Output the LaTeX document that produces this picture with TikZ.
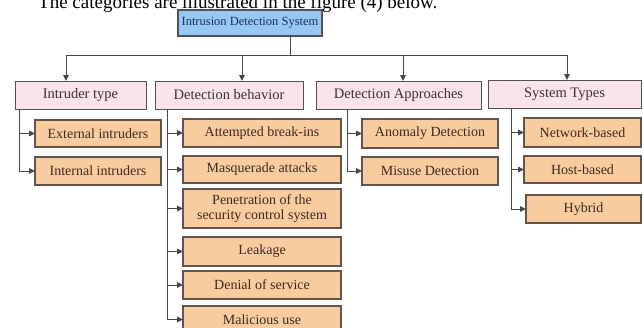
\documentclass[tikz,border=0pt]{standalone}
\usepackage{fontspec}
\setmainfont{Liberation Serif}
\usetikzlibrary{arrows.meta}
\definecolor{idsblue}{RGB}{150,200,242}
\definecolor{catpink}{RGB}{250,228,233}
\definecolor{kidorange}{RGB}{249,204,160}
\definecolor{edgegrey}{RGB}{80,80,88}
\definecolor{kidedge}{RGB}{100,85,75}
\definecolor{idstext}{RGB}{30,45,95}
\definecolor{cattext}{RGB}{55,50,55}
\definecolor{kidtext}{RGB}{60,40,30}
\tikzset{
  boxbase/.style={draw, inner sep=0pt, outer sep=0pt, align=center},
  idsbox/.style={boxbase, fill=idsblue, draw=edgegrey, line width=1.3pt, text=idstext, font=\fontsize{12.5}{14}\selectfont},
  catbox/.style={boxbase, fill=catpink, draw=edgegrey, line width=1pt, text=cattext, font=\fontsize{14.5}{16}\selectfont},
  kidbox/.style={boxbase, fill=kidorange, draw=kidedge, line width=1.1pt, text=kidtext, font=\fontsize{14}{15}\selectfont},
  link/.style={draw=black!72, line width=0.9pt},
  arr/.style={link, -{Triangle[length=6pt,width=5.5pt]}},
}
\newcommand\mkbox[7]{\node[#2, minimum width={(#5-#3)*1pt}, minimum height={(#6-#4)*1pt}] (#1) at ({(#3+#5)/2},{(#4+#6)/2}) {#7};}
\begin{document}
\begin{tikzpicture}[x=1pt,y=-1pt]
\useasboundingbox (0,0) rectangle (643,327);
\fill[white] (0,0) rectangle (643,327);
\clip (0,0) rectangle (643,327);
% partial caption line at the top
\node[anchor=base west, inner sep=0pt, font=\fontsize{19}{19}\selectfont] (title) at (38,8) {The categories are illustrated in the figure (4) below.};
% root
\mkbox{ids}{idsbox}{178}{10}{322}{36}{Intrusion Detection System}
% categories
\mkbox{cat1}{catbox}{15}{81}{146}{109}{Intruder type}
\mkbox{cat2}{catbox}{155}{81}{303}{109}{Detection behavior}
\mkbox{cat3}{catbox}{316}{81}{481}{109}{Detection Approaches}
\mkbox{cat4}{catbox}{488}{80}{641}{108}{System Types}
% children: intruder type
\mkbox{ext}{kidbox}{35}{120}{161}{147}{External intruders}
\mkbox{int}{kidbox}{35}{157}{161}{185}{Internal intruders}
% children: detection behavior
\mkbox{att}{kidbox}{183}{119}{341}{147}{Attempted break-ins}
\mkbox{mas}{kidbox}{183}{156}{341}{183}{Masquerade attacks}
\mkbox{pen}{kidbox}{183}{189}{341}{228}{Penetration of the\\security control system}
\mkbox{lea}{kidbox}{183}{237}{341}{266}{Leakage}
\mkbox{den}{kidbox}{183}{271}{341}{299}{Denial of service}
\mkbox{mal}{kidbox}{183}{306}{341}{333}{Malicious use}
% children: detection approaches
\mkbox{ano}{kidbox}{362}{119}{498}{148}{Anomaly Detection}
\mkbox{mis}{kidbox}{362}{157}{498}{185}{Misuse Detection}
% children: system types
\mkbox{net}{kidbox}{524}{118}{641}{147}{Network-based}
\mkbox{hos}{kidbox}{524}{156}{641}{183}{Host-based}
\mkbox{hyb}{kidbox}{526}{195}{641}{223}{Hybrid}
% root to categories
\coordinate (hub) at (290,55);
\coordinate (d1) at (66,55);
\coordinate (d2) at (242,55);
\coordinate (d3) at (403,55);
\coordinate (d4) at (567,55);
\draw[link] (ids.south -| hub) -- (hub);
\draw[link] (d1) -- (d4);
\draw[arr] (d1) -- (d1 |- cat1.north);
\draw[arr] (d2) -- (d2 |- cat2.north);
\draw[arr] (d3) -- (d3 |- cat3.north);
\draw[arr] (d4) -- (d4 |- cat4.north);
% trunks
\coordinate (t1) at (19,110);
\coordinate (t2) at (167,110);
\coordinate (t3) at (347,110);
\coordinate (t4) at (511,110);
\draw[arr] (cat1.south -| t1) |- (ext.west);
\draw[arr] (cat1.south -| t1) |- (int.west);
\draw[arr] (cat2.south -| t2) |- (att.west);
\draw[arr] (cat2.south -| t2) |- (mas.west);
\draw[arr] (cat2.south -| t2) |- (pen.west);
\draw[arr] (cat2.south -| t2) |- (lea.west);
\draw[arr] (cat2.south -| t2) |- (den.west);
\draw[arr] (cat2.south -| t2) |- (mal.west);
\draw[arr] (cat3.south -| t3) |- (ano.west);
\draw[arr] (cat3.south -| t3) |- (mis.west);
\draw[arr] (cat4.south -| t4) |- (net.west);
\draw[arr] (cat4.south -| t4) |- (hos.west);
\draw[arr] (cat4.south -| t4) |- (hyb.west);
\end{tikzpicture}
\end{document}
